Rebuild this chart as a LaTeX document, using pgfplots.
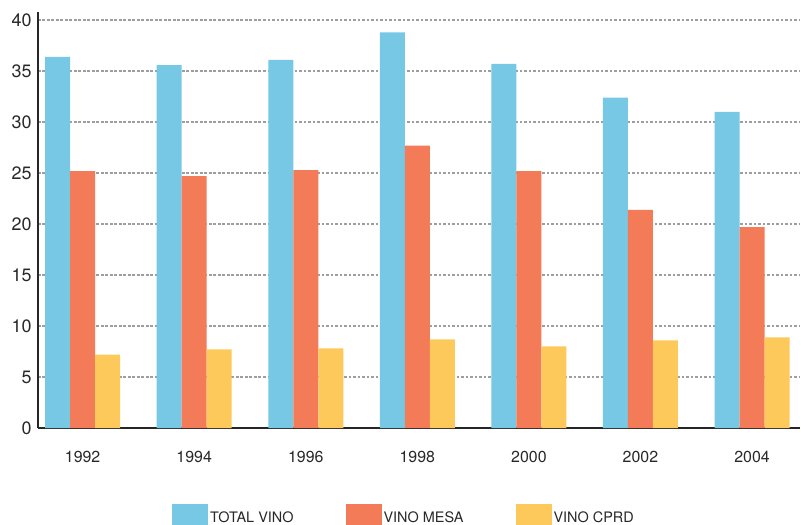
\documentclass[border=0pt]{standalone}
\usepackage{fontspec}
\setmainfont{TeX Gyre Heros}
\usepackage{pgfplots}
\pgfplotsset{compat=1.18}
\definecolor{vtotal}{RGB}{118,200,228}
\definecolor{vmesa}{RGB}{244,123,87}
\definecolor{vcprd}{RGB}{253,201,90}
\definecolor{txt}{RGB}{40,40,40}

\begin{document}
\begin{tikzpicture}
\begin{axis}[
  ybar=0pt, bar width=25bp,
  scale only axis, width=762bp, height=416bp,
  xmin=-0.4, xmax=6.43, ymin=0, ymax=40.8,
  xtick=data,
  xticklabels={1992,1994,1996,1998,2000,2002,2004},
  ytick={0,5,...,40},
  axis x line*=bottom, axis y line*=left,
  axis line style={-, line width=1.4bp, color=black!85},
  major tick length=0pt,
  ymajorgrids,
  grid style={line width=2.6bp, color=black!38, dash pattern=on 2.6bp off 1.9bp},
  /pgf/number format/assume math mode=true,
  yticklabel style={font=\fontsize{18}{20}\selectfont, color=txt, xshift=-3bp},
  xticklabel style={font=\fontsize{16}{18}\selectfont, color=txt, yshift=-20bp},
  legend columns=3,
  legend style={at={(0.5,0)}, anchor=north, yshift=-74bp, xshift=-15bp, draw=none,
    font=\fontsize{14.5}{16}\selectfont, text=txt,
    /tikz/every even column/.append style={column sep=50bp}},
  legend image code/.code={
    \path (0bp,-14bp) rectangle (36bp,14bp);
    \fill[#1] (0bp,-14bp) rectangle (28bp,14bp);},
]
\addplot[fill=vtotal, draw=none] coordinates {
  (0,36.4) (1,35.6) (2,36.1) (3,38.8) (4,35.7) (5,32.4) (6,31.0)};
\addplot[fill=vmesa, draw=none] coordinates {
  (0,25.2) (1,24.7) (2,25.3) (3,27.7) (4,25.2) (5,21.4) (6,19.7)};
\addplot[fill=vcprd, draw=none] coordinates {
  (0,7.2) (1,7.7) (2,7.8) (3,8.7) (4,8.0) (5,8.6) (6,8.9)};
\legend{TOTAL VINO, VINO MESA, VINO CPRD}
\end{axis}
\pgfresetboundingbox
\path[use as bounding box] (-38bp,-97bp) rectangle (763bp,428bp);
\end{tikzpicture}
\end{document}
